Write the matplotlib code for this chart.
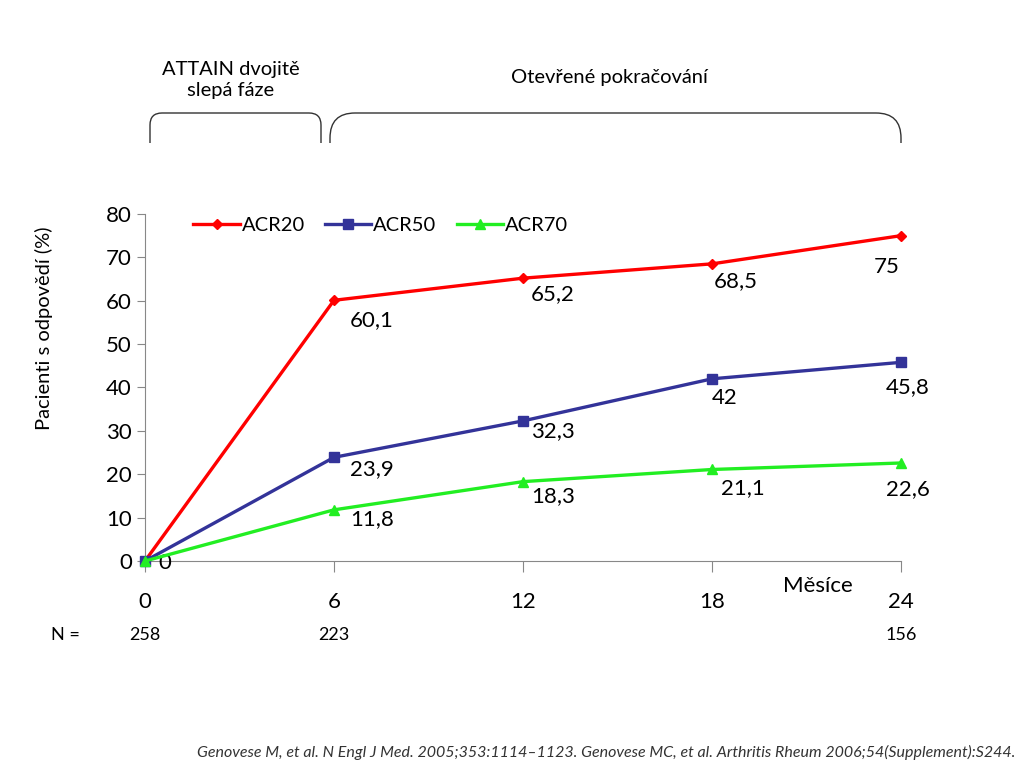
import matplotlib.pyplot as plt
from matplotlib.path import Path
from matplotlib.patches import PathPatch

plt.rcParams['font.family'] = ['Lato', 'DejaVu Sans']

# data
months = [0, 6, 12, 18, 24]
acr20 = [0, 60.1, 65.2, 68.5, 75]
acr50 = [0, 23.9, 32.3, 42, 45.8]
acr70 = [0, 11.8, 18.3, 21.1, 22.6]
n_months = [0, 6, 24]
n_values = ['258', '223', '156']

# label offsets in pixels (dx, dy) for points at 6, 12, 18, 24 months
off20 = [(38, -20), (30, -16), (24, -17), (-14, -31)]
off50 = [(38, -12), (30, -10), (13, -19), (7, -25)]
off70 = [(38, -9), (30, -14), (31, -19), (7, -26)]

fig = plt.figure(figsize=(10.24, 7.68), dpi=100)
ax = fig.add_axes([0.1416, 0.2695, 0.7383, 0.4519])

ax.plot(months, acr20, color='#FF0000', lw=2.4, marker='D', ms=5, label='ACR20', clip_on=False, zorder=3)
ax.plot(months, acr50, color='#333399', lw=2.4, marker='s', ms=7, label='ACR50', clip_on=False, zorder=4)
ax.plot(months, acr70, color='#22EE22', lw=2.4, marker='^', ms=7, label='ACR70', clip_on=False, zorder=5)


def fmt(v):
    return ('%g' % v).replace('.', ',')


ax.annotate('0', (0, 0), xytext=(20, -2), textcoords='offset pixels',
            fontsize=16, ha='center', va='center')
for series, offs in [(acr20, off20), (acr50, off50), (acr70, off70)]:
    for x, v, o in zip(months[1:], series[1:], offs):
        ax.annotate(fmt(v), (x, v), xytext=o, textcoords='offset pixels',
                    fontsize=16, ha='center', va='center')

ax.set_xlim(0, 24)
ax.set_ylim(0, 80)
ax.set_xticks(months)
ax.set_yticks(range(0, 81, 10))
ax.tick_params(axis='y', labelsize=16, length=6, color='#888888')
ax.tick_params(axis='x', labelsize=16, length=8, color='#888888', pad=14)
for s in ['top', 'right']:
    ax.spines[s].set_visible(False)
ax.spines['left'].set_color('#888888')
ax.spines['bottom'].set_color('#888888')
ax.set_ylabel('Pacienti s odpovědí (%)', fontsize=14.5)
ax.yaxis.set_label_coords(-0.122, 0.671)

ax.legend(loc='upper left', bbox_to_anchor=(0.04, 1.045), ncol=3, frameon=False,
          fontsize=14.5, handlelength=2.3, handletextpad=0.1, columnspacing=1.0)

ax.text(0.89, -0.072, 'Měsíce', transform=ax.transAxes, fontsize=16, ha='center', va='center')

# N row
fig.text(65 / 1024, 1 - 635 / 768, 'N =', fontsize=13, ha='center', va='center')
for x, n in zip(n_months, n_values):
    xf = 0.1416 + 0.7383 * x / 24
    fig.text(xf, 1 - 635 / 768, n, fontsize=13, ha='center', va='center')

# headers
fig.text(231 / 1024, 1 - 80 / 768, 'ATTAIN dvojitě\nslepá fáze', fontsize=14.5,
         ha='center', va='center', linespacing=1.35)
fig.text(609 / 1024, 1 - 77 / 768, 'Otevřené pokračování', fontsize=14.5, ha='center', va='center')


# braces
def bracket(x0, x1, ytop, ybot, r):
    verts = [(x0, ybot), (x0, ytop + r), (x0, ytop), (x0 + r, ytop),
             (x1 - r, ytop), (x1, ytop), (x1, ytop + r), (x1, ybot)]
    codes = [Path.MOVETO, Path.LINETO, Path.CURVE3, Path.CURVE3,
             Path.LINETO, Path.CURVE3, Path.CURVE3, Path.LINETO]
    verts = [(x / 1024, 1 - y / 768) for x, y in verts]
    fig.add_artist(PathPatch(Path(verts, codes), fill=False, lw=1.0, color='#333333',
                             transform=fig.transFigure))


bracket(150, 321, 113, 143, 12)
bracket(330, 901, 113, 143, 25)

fig.text(1015 / 1024, 1 - 752 / 768,
         'Genovese M, et al. N Engl J Med. 2005;353:1114–1123. Genovese MC, et al. Arthritis Rheum 2006;54(Supplement):S244.',
         fontsize=11.5, style='italic', color='#333333', ha='right', va='center')

fig.savefig('out.png', dpi=100)
